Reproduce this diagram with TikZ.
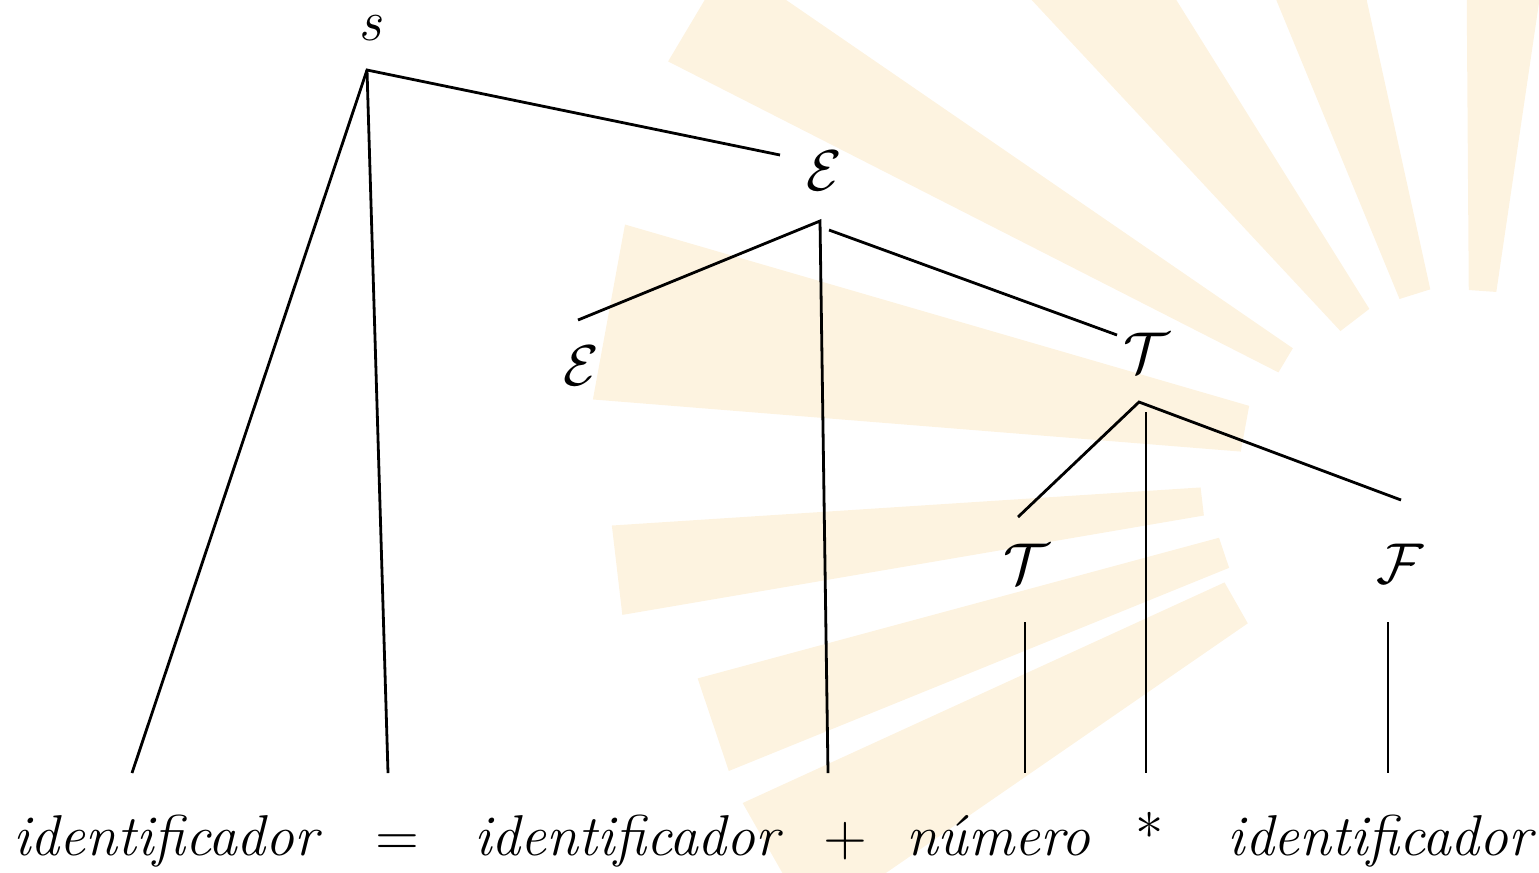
\documentclass[tikz,border=0pt]{standalone}
\usepackage{tikz}
\usetikzlibrary{positioning}
\definecolor{sunray}{RGB}{253,243,224}

\begin{document}
\begin{tikzpicture}[x=0.25pt, y=-0.25pt,
    word/.style={font=\Large\itshape, inner sep=0pt, anchor=base},
    sym/.style={font=\Large, inner sep=0pt, anchor=base},
    branch/.style={line width=0.7pt}]
    \useasboundingbox (0,0) rectangle (1539,872);

    % Rayos claros del fondo
    \begin{scope}
        \clip (0,0) rectangle (1539,872);
        \begin{scope}[shift={(1470,470)}]
            \fill[sunray] (-90.4:180) -- (-90.4:900) -- (-81.6:900) -- (-81.6:180) -- cycle;
            \fill[sunray] (-112.4:185) -- (-112.4:900) -- (-102.4:900) -- (-102.4:185) -- cycle;
            \fill[sunray] (-133:190) -- (-133:900) -- (-122:900) -- (-122:190) -- cycle;
            \fill[sunray] (-153:215) -- (-153:900) -- (-145.5:900) -- (-145.5:215) -- cycle;
            \fill[sunray] (-175.4:230) -- (-175.4:880) -- (-163.8:880) -- (-163.8:230) -- cycle;
            \fill[sunray] (170.3:270) -- (170.3:860) -- (176.3:860) -- (176.3:270) -- cycle;
            \fill[sunray] (157.9:260) -- (157.9:800) -- (164.9:800) -- (164.9:260) -- cycle;
            \fill[sunray] (145.4:270) -- (145.4:800) -- (155.4:800) -- (155.4:270) -- cycle;
        \end{scope}
    \end{scope}

    % Nodos no terminales
    \node[word] (s) at (370,40) {s};
    \node[sym] (E) at (824,190) {$\mathcal{E}$};
    \node[sym] (El) at (581,385) {$\mathcal{E}$};
    \node[sym] (T) at (1146,372) {$\mathcal{T}$};
    \node[sym] (Tl) at (1026,583) {$\mathcal{T}$};
    \node[sym] (F) at (1400,583) {$\mathcal{F}$};

    % Hojas (cadena de entrada)
    \node[word] (idA) at (166,855) {identificador};
    \node[sym] (eq) at (397,855) {$=$};
    \node[word] (idB) at (627,855) {identificador};
    \node[sym] (plus) at (845,855) {$+$};
    \node[word] (num) at (998,855) {número};
    \node[sym] (ast) at (1150,855) {*};
    \node[word] (idC) at (1380,855) {identificador};

    % Puntos de enganche de las ramas
    \coordinate (s-foot) at (367,70);
    \coordinate (E-head) at (780,155);
    \coordinate (E-foot) at (820,221);
    \coordinate (E-footr) at (829,230);
    \coordinate (El-head) at (578,320);
    \coordinate (T-head) at (1117,335);
    \coordinate (T-foot) at (1139,402);
    \coordinate (T-footm) at (1146,412);
    \coordinate (Tl-head) at (1018,517);
    \coordinate (F-head) at (1401,500);
    \coordinate (Tl-foot) at (1025,622);
    \coordinate (F-foot) at (1388,622);
    \coordinate (idA-head) at (132,773);
    \coordinate (eq-head) at (388,773);
    \coordinate (plus-head) at (828,773);
    \coordinate (num-head) at (1025,773);
    \coordinate (ast-head) at (1146,773);
    \coordinate (idC-head) at (1388,773);

    % Ramas del arbol
    \draw[branch] (idA-head) -- (s-foot) -- (E-head);
    \draw[branch] (s-foot) -- (eq-head);
    \draw[branch] (El-head) -- (E-foot) -- (plus-head);
    \draw[branch] (E-footr) -- (T-head);
    \draw[branch] (Tl-head) -- (T-foot) -- (F-head);
    \draw[branch] (T-footm) -- (ast-head);
    \draw[branch] (Tl-foot) -- (num-head);
    \draw[branch] (F-foot) -- (idC-head);
\end{tikzpicture}
\end{document}
